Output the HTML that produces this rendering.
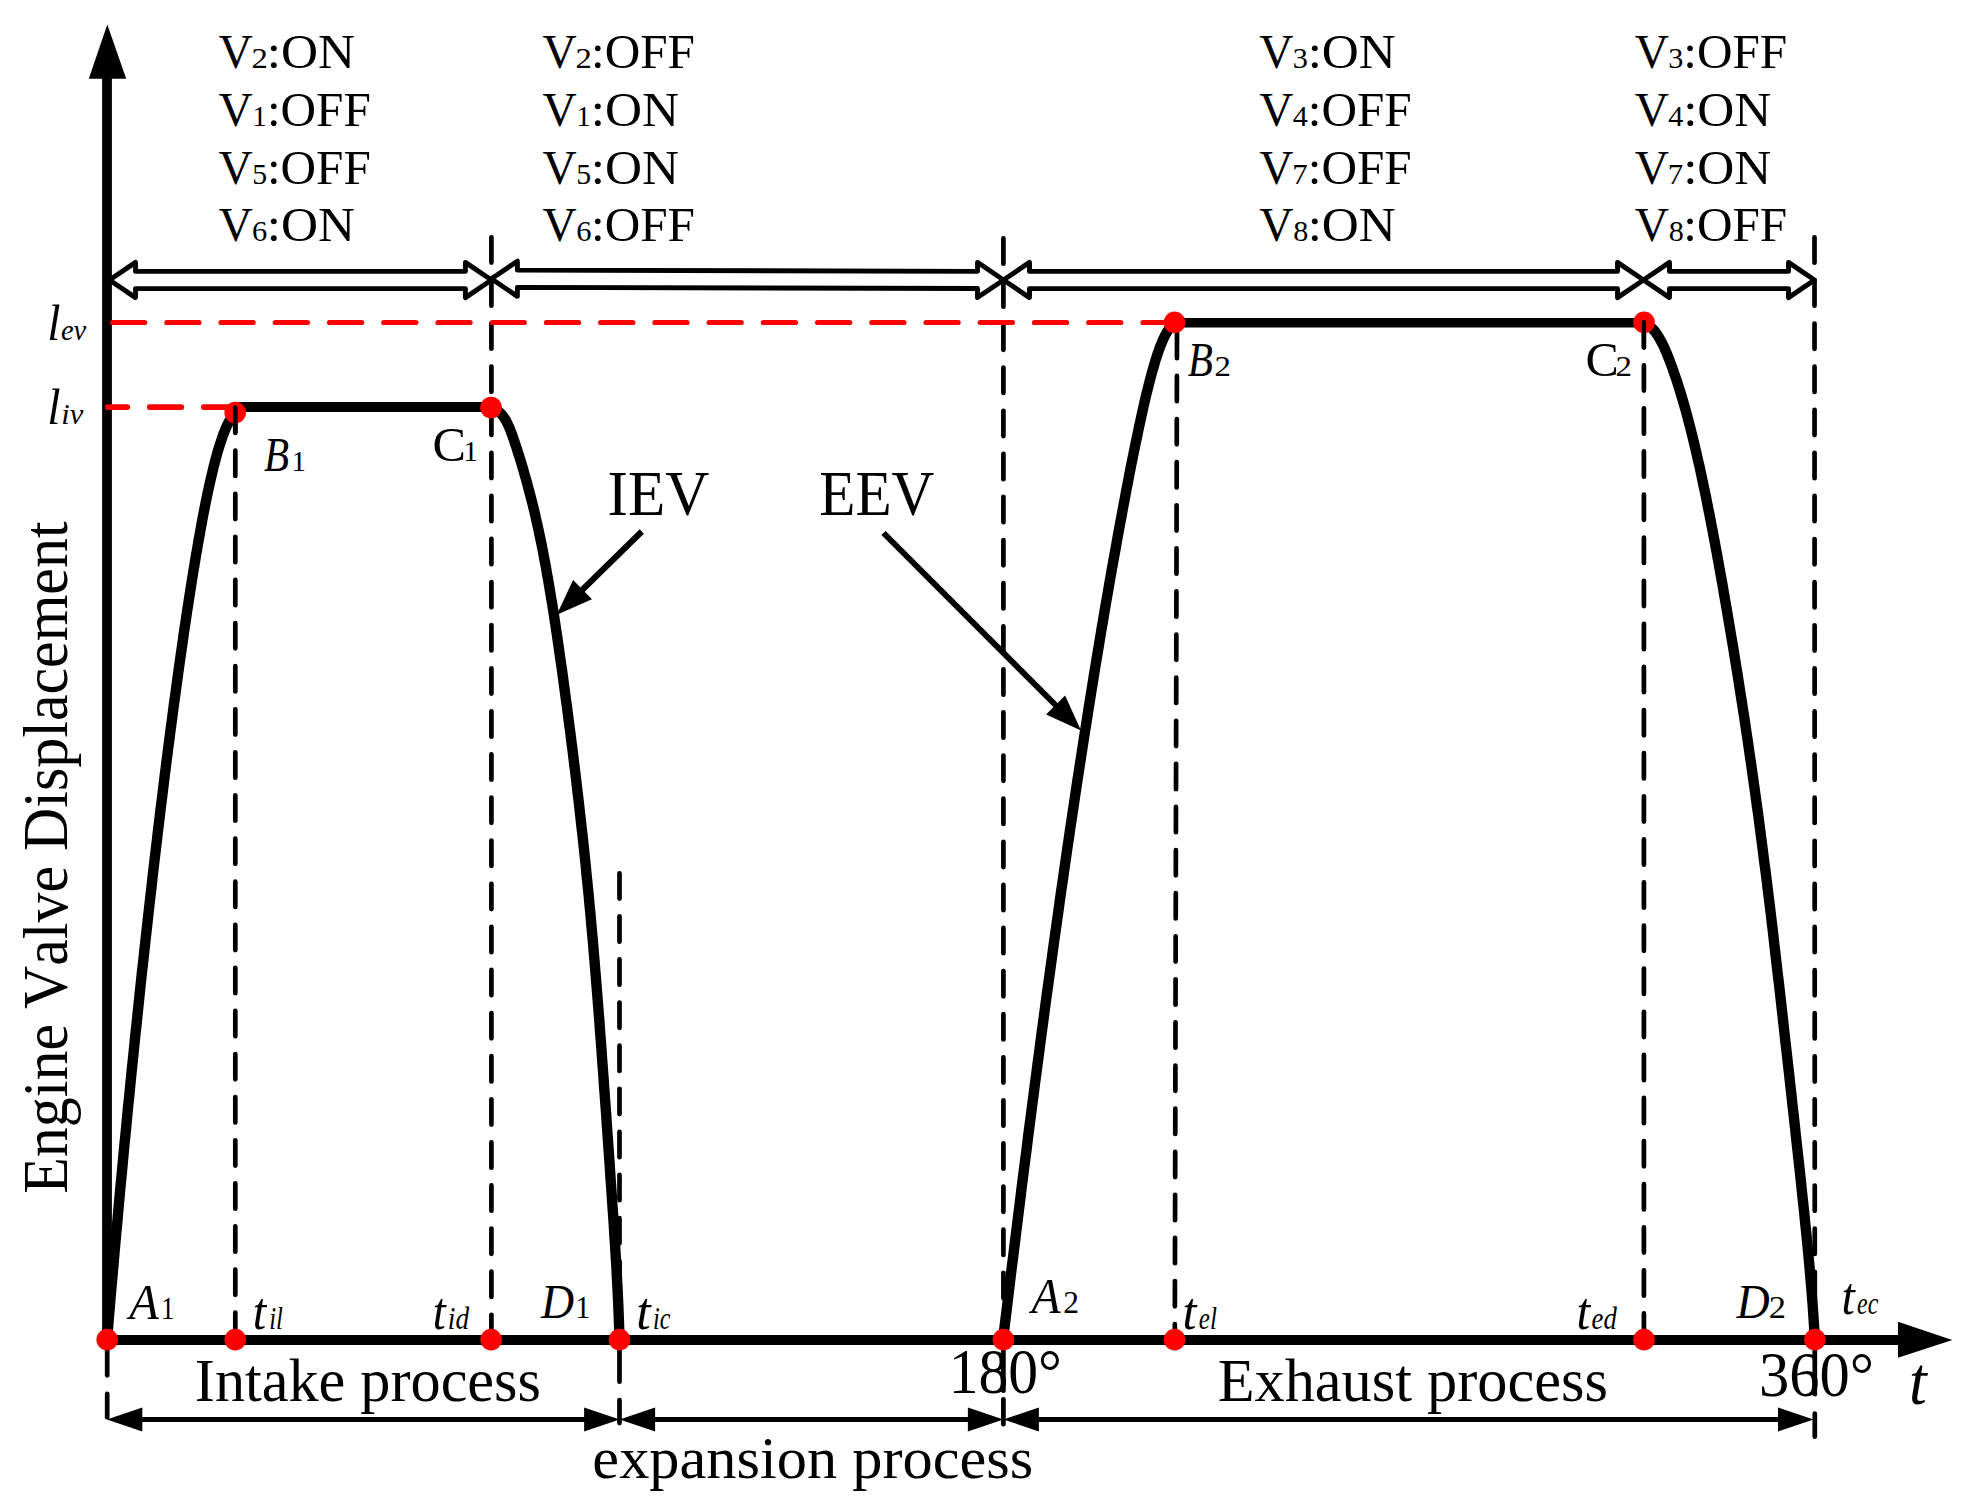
<!DOCTYPE html>
<html><head><meta charset="utf-8"><title>Engine valve displacement</title>
<style>
html,body{margin:0;padding:0;background:#fff}
svg{display:block}
text{font-family:"Liberation Serif",serif;fill:#000;font-kerning:none}
</style></head>
<body>
<svg width="1972" height="1506" viewBox="0 0 1972 1506">
<rect width="1972" height="1506" fill="#fff"/>
<g fill="none" stroke="#000">
<path d="M107.0,1344.9 V78" stroke-width="9.8"/>
<path d="M107.0,1340.0 H1900" stroke-width="10"/>
</g>
<polygon points="107.3,24.5 88.8,78.7 126.2,78.7" fill="#000"/>
<polygon points="1952.3,1340 1898,1321.8 1898,1357.8" fill="#000"/>
<g fill="none" stroke="#000" stroke-width="10.4" stroke-linejoin="round" stroke-linecap="butt">
<path d="M235.2,412.6 L234.5,413.4 L233.7,414.3 L233.0,415.3 L232.2,416.3 L231.5,417.4 L230.8,418.5 L230.1,419.7 L229.3,421.0 L228.6,422.3 L227.9,423.7 L227.2,425.2 L226.5,426.7 L225.8,428.3 L225.1,430.0 L224.4,431.7 L223.7,433.4 L223.0,435.3 L222.3,437.2 L221.7,439.2 L221.0,441.2 L220.3,443.3 L219.6,445.4 L218.9,447.7 L218.2,449.9 L217.5,452.3 L216.9,454.7 L216.2,457.2 L215.5,459.7 L214.8,462.3 L214.1,465.0 L213.4,467.7 L212.8,470.5 L212.1,473.4 L211.4,476.3 L210.7,479.3 L210.0,482.3 L209.3,485.4 L208.6,488.6 L207.9,491.8 L207.2,495.1 L206.5,498.5 L205.8,501.9 L205.1,505.4 L204.4,509.0 L203.7,512.6 L203.0,516.2 L202.3,520.0 L201.6,523.8 L200.9,527.7 L200.2,531.6 L199.5,535.6 L198.7,539.6 L198.0,543.8 L197.3,548.0 L196.6,552.2 L195.8,556.5 L195.1,560.9 L194.4,565.3 L193.6,569.8 L192.9,574.4 L192.1,579.0 L191.4,583.7 L190.6,588.5 L189.9,593.3 L189.1,598.2 L188.4,603.1 L187.6,608.1 L186.8,613.2 L186.1,618.3 L185.3,623.5 L184.5,628.8 L183.7,634.1 L183.0,639.5 L182.2,645.0 L181.4,650.5 L180.6,656.1 L179.8,661.7 L179.0,667.4 L178.2,673.2 L177.4,679.0 L176.6,684.9 L175.8,690.9 L175.0,696.9 L174.1,703.0 L173.3,709.1 L172.5,715.3 L171.7,721.6 L170.8,728.0 L170.0,734.4 L169.2,740.8 L168.3,747.4 L167.5,753.9 L166.6,760.6 L165.8,767.3 L164.9,774.1 L164.1,781.0 L163.2,787.9 L162.4,794.8 L161.5,801.9 L160.6,809.0 L159.8,816.1 L158.9,823.4 L158.0,830.7 L157.2,838.0 L156.3,845.4 L155.4,852.9 L154.5,860.4 L153.6,868.1 L152.7,875.7 L151.9,883.5 L151.0,891.3 L150.1,899.1 L149.2,907.0 L148.3,915.0 L147.4,923.1 L146.5,931.2 L145.6,939.4 L144.7,947.6 L143.8,955.9 L142.9,964.3 L141.9,972.7 L141.0,981.2 L140.1,989.8 L139.2,998.4 L138.3,1007.1 L137.4,1015.8 L136.5,1024.6 L135.5,1033.5 L134.6,1042.4 L133.7,1051.4 L132.8,1060.5 L131.8,1069.6 L130.9,1078.8 L130.0,1088.1 L129.1,1097.4 L128.1,1106.8 L127.2,1116.2 L126.3,1125.7 L125.4,1135.3 L124.4,1144.9 L123.5,1154.6 L122.6,1164.4 L121.7,1174.2 L120.7,1184.1 L119.8,1194.0 L118.9,1204.1 L118.0,1214.1 L117.1,1224.3 L116.1,1234.5 L115.2,1244.7 L114.3,1255.1 L113.4,1265.5 L112.5,1275.9 L111.5,1286.4 L110.6,1297.0 L109.7,1307.7 L108.8,1318.4 L107.9,1329.2 L107.0,1340.0"/>
<path d="M491.0,407.5 L493.0,408.3 L494.9,409.2 L496.5,410.2 L498.0,411.2 L499.4,412.3 L500.6,413.4 L501.8,414.6 L502.9,415.9 L503.9,417.3 L504.8,418.7 L505.7,420.1 L506.5,421.7 L507.4,423.3 L508.1,424.9 L508.9,426.6 L509.7,428.4 L510.4,430.3 L511.1,432.2 L511.9,434.2 L512.6,436.2 L513.3,438.3 L514.1,440.5 L514.8,442.7 L515.6,445.0 L516.4,447.4 L517.2,449.8 L517.9,452.3 L518.7,454.8 L519.6,457.4 L520.4,460.1 L521.2,462.9 L522.1,465.7 L522.9,468.5 L523.8,471.5 L524.6,474.5 L525.5,477.5 L526.4,480.7 L527.3,483.8 L528.1,487.1 L529.0,490.4 L529.9,493.8 L530.8,497.2 L531.7,500.7 L532.6,504.3 L533.5,507.9 L534.4,511.6 L535.3,515.4 L536.1,519.2 L537.0,523.1 L537.9,527.1 L538.8,531.1 L539.6,535.2 L540.5,539.3 L541.4,543.5 L542.2,547.8 L543.1,552.1 L543.9,556.5 L544.7,561.0 L545.6,565.5 L546.4,570.1 L547.2,574.8 L548.1,579.5 L548.9,584.3 L549.7,589.1 L550.5,594.0 L551.3,599.0 L552.2,604.0 L553.0,609.1 L553.8,614.3 L554.6,619.5 L555.4,624.8 L556.2,630.2 L557.0,635.6 L557.8,641.1 L558.6,646.6 L559.4,652.2 L560.2,657.9 L561.0,663.6 L561.9,669.4 L562.7,675.3 L563.5,681.2 L564.3,687.2 L565.1,693.3 L565.9,699.4 L566.8,705.6 L567.6,711.8 L568.4,718.1 L569.2,724.5 L570.1,730.9 L570.9,737.5 L571.7,744.0 L572.6,750.6 L573.4,757.3 L574.2,764.1 L575.1,770.9 L575.9,777.8 L576.7,784.7 L577.5,791.8 L578.4,798.8 L579.2,806.0 L580.0,813.2 L580.8,820.4 L581.6,827.8 L582.5,835.2 L583.3,842.6 L584.1,850.2 L584.9,857.7 L585.7,865.4 L586.4,873.1 L587.2,880.9 L588.0,888.7 L588.8,896.6 L589.5,904.6 L590.3,912.6 L591.0,920.7 L591.7,928.9 L592.5,937.1 L593.2,945.4 L593.9,953.7 L594.6,962.1 L595.3,970.6 L596.0,979.2 L596.7,987.8 L597.4,996.4 L598.1,1005.2 L598.8,1014.0 L599.5,1022.8 L600.1,1031.8 L600.8,1040.7 L601.5,1049.8 L602.1,1058.9 L602.8,1068.1 L603.5,1077.3 L604.1,1086.6 L604.8,1096.0 L605.5,1105.4 L606.2,1114.9 L606.8,1124.5 L607.5,1134.1 L608.2,1143.8 L608.9,1153.6 L609.6,1163.4 L610.2,1173.3 L610.9,1183.2 L611.6,1193.2 L612.3,1203.3 L613.0,1213.4 L613.7,1223.6 L614.3,1233.9 L615.0,1244.2 L615.6,1254.6 L616.3,1265.0 L616.8,1275.6 L617.4,1286.1 L617.9,1296.8 L618.4,1307.5 L618.8,1318.3 L619.2,1329.1 L619.5,1340.0"/>
<path d="M1174.5,322.5 L1173.5,323.4 L1172.6,324.3 L1171.7,325.3 L1170.8,326.4 L1169.9,327.6 L1169.0,328.8 L1168.2,330.1 L1167.3,331.4 L1166.5,332.9 L1165.6,334.4 L1164.8,335.9 L1164.0,337.6 L1163.2,339.3 L1162.4,341.1 L1161.7,342.9 L1160.9,344.8 L1160.1,346.8 L1159.3,348.9 L1158.6,351.0 L1157.8,353.2 L1157.0,355.5 L1156.3,357.8 L1155.5,360.2 L1154.8,362.7 L1154.0,365.3 L1153.3,367.9 L1152.5,370.6 L1151.7,373.4 L1151.0,376.2 L1150.2,379.1 L1149.4,382.1 L1148.7,385.1 L1147.9,388.2 L1147.1,391.4 L1146.3,394.6 L1145.5,398.0 L1144.7,401.3 L1143.9,404.8 L1143.1,408.3 L1142.3,411.9 L1141.5,415.6 L1140.7,419.3 L1139.9,423.2 L1139.0,427.0 L1138.2,431.0 L1137.4,435.0 L1136.5,439.1 L1135.6,443.3 L1134.8,447.5 L1133.9,451.8 L1133.0,456.2 L1132.1,460.6 L1131.2,465.1 L1130.3,469.7 L1129.4,474.3 L1128.5,479.1 L1127.6,483.9 L1126.6,488.7 L1125.7,493.6 L1124.8,498.6 L1123.8,503.7 L1122.8,508.9 L1121.9,514.1 L1120.9,519.3 L1119.9,524.7 L1118.9,530.1 L1117.9,535.6 L1116.9,541.2 L1115.9,546.8 L1114.9,552.5 L1113.8,558.3 L1112.8,564.1 L1111.7,570.0 L1110.7,576.0 L1109.6,582.0 L1108.6,588.2 L1107.5,594.3 L1106.4,600.6 L1105.3,606.9 L1104.2,613.3 L1103.2,619.8 L1102.0,626.3 L1100.9,633.0 L1099.8,639.6 L1098.7,646.4 L1097.6,653.2 L1096.4,660.1 L1095.3,667.0 L1094.1,674.1 L1093.0,681.2 L1091.8,688.3 L1090.7,695.6 L1089.5,702.9 L1088.3,710.3 L1087.2,717.7 L1086.0,725.2 L1084.8,732.8 L1083.6,740.5 L1082.4,748.2 L1081.2,756.0 L1080.0,763.9 L1078.8,771.8 L1077.5,779.8 L1076.3,787.9 L1075.1,796.1 L1073.9,804.3 L1072.6,812.6 L1071.4,820.9 L1070.1,829.4 L1068.9,837.9 L1067.6,846.4 L1066.4,855.1 L1065.1,863.8 L1063.9,872.5 L1062.6,881.4 L1061.3,890.3 L1060.0,899.3 L1058.8,908.4 L1057.5,917.5 L1056.2,926.7 L1054.9,936.0 L1053.6,945.3 L1052.3,954.7 L1051.0,964.2 L1049.7,973.7 L1048.4,983.3 L1047.0,993.0 L1045.7,1002.8 L1044.4,1012.6 L1043.1,1022.5 L1041.7,1032.5 L1040.4,1042.5 L1039.1,1052.6 L1037.7,1062.8 L1036.4,1073.1 L1035.0,1083.4 L1033.7,1093.8 L1032.3,1104.2 L1031.0,1114.7 L1029.6,1125.3 L1028.2,1136.0 L1026.9,1146.8 L1025.5,1157.6 L1024.1,1168.4 L1022.7,1179.4 L1021.3,1190.4 L1020.0,1201.5 L1018.6,1212.6 L1017.2,1223.9 L1015.8,1235.2 L1014.4,1246.5 L1013.0,1258.0 L1011.5,1269.5 L1010.1,1281.1 L1008.7,1292.7 L1007.3,1304.4 L1005.9,1316.2 L1004.4,1328.1 L1003.0,1340.0"/>
<path d="M1644.0,322.5 L1645.7,323.4 L1647.2,324.3 L1648.6,325.3 L1650.0,326.4 L1651.3,327.6 L1652.5,328.8 L1653.7,330.1 L1654.9,331.4 L1655.9,332.9 L1657.0,334.4 L1658.0,335.9 L1659.0,337.6 L1660.0,339.3 L1661.0,341.1 L1662.0,342.9 L1662.9,344.8 L1663.9,346.8 L1664.8,348.9 L1665.7,351.0 L1666.7,353.2 L1667.6,355.5 L1668.5,357.8 L1669.5,360.2 L1670.4,362.7 L1671.4,365.3 L1672.3,367.9 L1673.3,370.6 L1674.2,373.4 L1675.2,376.2 L1676.2,379.1 L1677.2,382.1 L1678.1,385.1 L1679.1,388.2 L1680.1,391.4 L1681.1,394.6 L1682.1,398.0 L1683.1,401.3 L1684.1,404.8 L1685.1,408.3 L1686.1,411.9 L1687.1,415.6 L1688.1,419.3 L1689.1,423.2 L1690.1,427.0 L1691.1,431.0 L1692.1,435.0 L1693.1,439.1 L1694.1,443.3 L1695.1,447.5 L1696.1,451.8 L1697.1,456.2 L1698.1,460.6 L1699.2,465.1 L1700.2,469.7 L1701.2,474.3 L1702.2,479.1 L1703.2,483.9 L1704.2,488.7 L1705.3,493.6 L1706.3,498.6 L1707.3,503.7 L1708.3,508.9 L1709.4,514.1 L1710.4,519.3 L1711.4,524.7 L1712.5,530.1 L1713.5,535.6 L1714.6,541.2 L1715.6,546.8 L1716.7,552.5 L1717.7,558.3 L1718.8,564.1 L1719.8,570.0 L1720.9,576.0 L1722.0,582.0 L1723.1,588.2 L1724.1,594.3 L1725.2,600.6 L1726.3,606.9 L1727.4,613.3 L1728.5,619.8 L1729.6,626.3 L1730.7,633.0 L1731.8,639.6 L1733.0,646.4 L1734.1,653.2 L1735.2,660.1 L1736.3,667.0 L1737.5,674.1 L1738.6,681.2 L1739.7,688.3 L1740.8,695.6 L1742.0,702.9 L1743.1,710.3 L1744.3,717.7 L1745.4,725.2 L1746.5,732.8 L1747.7,740.5 L1748.8,748.2 L1749.9,756.0 L1751.1,763.9 L1752.2,771.8 L1753.3,779.8 L1754.5,787.9 L1755.6,796.1 L1756.7,804.3 L1757.9,812.6 L1759.0,820.9 L1760.1,829.4 L1761.2,837.9 L1762.3,846.4 L1763.4,855.1 L1764.5,863.8 L1765.7,872.5 L1766.8,881.4 L1767.9,890.3 L1769.0,899.3 L1770.1,908.4 L1771.2,917.5 L1772.3,926.7 L1773.4,936.0 L1774.4,945.3 L1775.5,954.7 L1776.6,964.2 L1777.7,973.7 L1778.9,983.3 L1780.0,993.0 L1781.1,1002.8 L1782.2,1012.6 L1783.3,1022.5 L1784.4,1032.5 L1785.5,1042.5 L1786.7,1052.6 L1787.8,1062.8 L1789.0,1073.1 L1790.1,1083.4 L1791.3,1093.8 L1792.4,1104.2 L1793.6,1114.7 L1794.8,1125.3 L1795.9,1136.0 L1797.1,1146.8 L1798.3,1157.6 L1799.5,1168.4 L1800.7,1179.4 L1801.8,1190.4 L1803.0,1201.5 L1804.2,1212.6 L1805.3,1223.9 L1806.5,1235.2 L1807.6,1246.5 L1808.7,1258.0 L1809.7,1269.5 L1810.7,1281.1 L1811.7,1292.7 L1812.6,1304.4 L1813.4,1316.2 L1814.2,1328.1 L1814.9,1340.0"/>
<path d="M235,407 H491" stroke-width="9.8"/>
<path d="M1174.5,322.8 H1644" stroke-width="9.6"/>
</g>
<polygon points="109.50,280.00 135.50,262.40 135.50,271.40 465.40,271.40 465.40,262.40 491.40,280.00 465.40,297.60 465.40,288.60 135.50,288.60 135.50,297.60" fill="none" stroke="#000" stroke-width="4.9" stroke-linejoin="round"/>
<polygon points="491.40,278.70 517.44,261.17 517.42,270.17 977.52,271.33 977.54,262.33 1003.50,280.00 977.46,297.53 977.48,288.53 517.38,287.37 517.36,296.37" fill="none" stroke="#000" stroke-width="4.9" stroke-linejoin="round"/>
<polygon points="1003.50,280.00 1029.50,262.40 1029.50,271.40 1617.50,271.40 1617.50,262.40 1643.50,280.00 1617.50,297.60 1617.50,288.60 1029.50,288.60 1029.50,297.60" fill="none" stroke="#000" stroke-width="4.9" stroke-linejoin="round"/>
<polygon points="1643.50,280.00 1669.50,262.40 1669.50,271.40 1788.50,271.40 1788.50,262.40 1814.50,280.00 1788.50,297.60 1788.50,288.60 1669.50,288.60 1669.50,297.60" fill="none" stroke="#000" stroke-width="4.9" stroke-linejoin="round"/>
<line x1="235.30" y1="407.55" x2="235.30" y2="1340.00" stroke="#000" stroke-width="4.7" stroke-linecap="round" stroke-dasharray="25.30 17.80"/>
<line x1="491.40" y1="237.25" x2="491.40" y2="1340.00" stroke="#000" stroke-width="4.7" stroke-linecap="round" stroke-dasharray="25.30 17.80"/>
<line x1="619.50" y1="873.25" x2="619.50" y2="1340.00" stroke="#000" stroke-width="4.7" stroke-linecap="round" stroke-dasharray="25.30 17.80"/>
<line x1="1003.40" y1="238.35" x2="1003.40" y2="1340.00" stroke="#000" stroke-width="4.7" stroke-linecap="round" stroke-dasharray="25.30 17.80"/>
<line x1="1177.00" y1="332.85" x2="1174.80" y2="1340.00" stroke="#000" stroke-width="4.7" stroke-linecap="round" stroke-dasharray="25.30 17.80"/>
<line x1="1643.90" y1="322.15" x2="1643.90" y2="1340.00" stroke="#000" stroke-width="4.7" stroke-linecap="round" stroke-dasharray="25.30 17.80"/>
<line x1="1814.50" y1="237.35" x2="1814.80" y2="1340.00" stroke="#000" stroke-width="4.7" stroke-linecap="round" stroke-dasharray="25.30 17.80"/>
<line x1="107.20" y1="1342.35" x2="107.20" y2="1375.35" stroke="#000" stroke-width="4.7" stroke-linecap="round"/>
<line x1="107.20" y1="1393.85" x2="107.20" y2="1417.15" stroke="#000" stroke-width="4.7" stroke-linecap="round"/>
<line x1="619.50" y1="1342.35" x2="619.50" y2="1381.65" stroke="#000" stroke-width="4.7" stroke-linecap="round"/>
<line x1="619.50" y1="1400.15" x2="619.50" y2="1423.05" stroke="#000" stroke-width="4.7" stroke-linecap="round"/>
<line x1="1003.40" y1="1342.35" x2="1003.40" y2="1390.65" stroke="#000" stroke-width="4.7" stroke-linecap="round"/>
<line x1="1003.40" y1="1399.35" x2="1003.40" y2="1424.15" stroke="#000" stroke-width="4.7" stroke-linecap="round"/>
<line x1="1814.80" y1="1342.35" x2="1814.80" y2="1394.15" stroke="#000" stroke-width="4.7" stroke-linecap="round"/>
<line x1="1814.80" y1="1413.55" x2="1814.80" y2="1436.65" stroke="#000" stroke-width="4.7" stroke-linecap="round"/>
<line x1="112.60" y1="322.50" x2="1174.00" y2="322.50" stroke="#ff0000" stroke-width="5.2" stroke-linecap="round" stroke-dasharray="32.10 22.13"/>
<line x1="107.7" y1="407.1" x2="127.2" y2="407.1" stroke="#ff0000" stroke-width="5.8" stroke-linecap="round"/>
<line x1="149.7" y1="407.1" x2="181.3" y2="407.1" stroke="#ff0000" stroke-width="5.8" stroke-linecap="round"/>
<line x1="203.8" y1="407.1" x2="232" y2="407.1" stroke="#ff0000" stroke-width="5.8" stroke-linecap="round"/>
<line x1="140.3" y1="1419.4" x2="586.1" y2="1419.4" stroke="#000" stroke-width="5.0"/>
<polygon points="106.8,1419.4 142.3,1407.4 142.3,1431.4" fill="#000"/>
<polygon points="619.6,1419.4 584.1,1407.4 584.1,1431.4" fill="#000"/>
<line x1="653.1" y1="1419.4" x2="969.9" y2="1419.4" stroke="#000" stroke-width="5.0"/>
<polygon points="619.6,1419.4 655.1,1407.4 655.1,1431.4" fill="#000"/>
<polygon points="1003.4,1419.4 967.9,1407.4 967.9,1431.4" fill="#000"/>
<line x1="1036.9" y1="1419.4" x2="1780.0" y2="1419.4" stroke="#000" stroke-width="5.0"/>
<polygon points="1003.4,1419.4 1038.9,1407.4 1038.9,1431.4" fill="#000"/>
<polygon points="1813.5,1419.4 1778.0,1407.4 1778.0,1431.4" fill="#000"/>
<line x1="641.8" y1="531.5" x2="581.1" y2="591.0" stroke="#000" stroke-width="6.0"/>
<polygon points="556.8,614.8 573.1,580.0 592.0,599.2" fill="#000"/>
<line x1="883.5" y1="533.0" x2="1057.0" y2="706.5" stroke="#000" stroke-width="6.0"/>
<polygon points="1081.0,730.5 1046.0,714.6 1065.1,695.5" fill="#000"/>
<circle cx="107.20" cy="1339.60" r="10.8" fill="#ff0000"/>
<circle cx="235.20" cy="1339.60" r="10.8" fill="#ff0000"/>
<circle cx="491.10" cy="1339.60" r="10.8" fill="#ff0000"/>
<circle cx="619.50" cy="1339.60" r="10.8" fill="#ff0000"/>
<circle cx="1003.40" cy="1339.60" r="10.8" fill="#ff0000"/>
<circle cx="1174.60" cy="1339.60" r="10.8" fill="#ff0000"/>
<circle cx="1644.00" cy="1339.60" r="10.8" fill="#ff0000"/>
<circle cx="1814.90" cy="1339.60" r="10.8" fill="#ff0000"/>
<circle cx="235.20" cy="412.60" r="10.8" fill="#ff0000"/>
<circle cx="491.05" cy="407.50" r="10.8" fill="#ff0000"/>
<circle cx="1174.55" cy="322.40" r="10.8" fill="#ff0000"/>
<circle cx="1644.05" cy="322.40" r="10.8" fill="#ff0000"/>
<line x1="235.3" y1="407.6" x2="235.3" y2="432.3" stroke="#000" stroke-width="4.7" stroke-linecap="round"/>
<line x1="1643.9" y1="322.2" x2="1643.9" y2="347.6" stroke="#000" stroke-width="4.2" stroke-linecap="round"/>
<text y="67.70"><tspan x="218.38" font-size="48.2" textLength="34.25" lengthAdjust="spacingAndGlyphs">V</tspan><tspan x="251.46" font-size="29.5" textLength="16.33" lengthAdjust="spacingAndGlyphs">2</tspan><tspan x="266.75" font-size="48.2" textLength="88.23" lengthAdjust="spacingAndGlyphs">:ON</tspan></text>
<text y="125.70"><tspan x="218.38" font-size="48.2" textLength="34.25" lengthAdjust="spacingAndGlyphs">V</tspan><tspan x="252.25" font-size="29.5" textLength="14.49" lengthAdjust="spacingAndGlyphs">1</tspan><tspan x="266.92" font-size="48.2" textLength="103.86" lengthAdjust="spacingAndGlyphs">:OFF</tspan></text>
<text y="183.70"><tspan x="218.38" font-size="48.2" textLength="34.25" lengthAdjust="spacingAndGlyphs">V</tspan><tspan x="252.17" font-size="29.5" textLength="14.89" lengthAdjust="spacingAndGlyphs">5</tspan><tspan x="266.92" font-size="48.2" textLength="103.86" lengthAdjust="spacingAndGlyphs">:OFF</tspan></text>
<text y="240.80"><tspan x="218.38" font-size="48.2" textLength="34.25" lengthAdjust="spacingAndGlyphs">V</tspan><tspan x="252.09" font-size="29.5" textLength="15.22" lengthAdjust="spacingAndGlyphs">6</tspan><tspan x="266.75" font-size="48.2" textLength="88.23" lengthAdjust="spacingAndGlyphs">:ON</tspan></text>
<text y="67.70"><tspan x="542.48" font-size="48.2" textLength="34.25" lengthAdjust="spacingAndGlyphs">V</tspan><tspan x="575.56" font-size="29.5" textLength="16.33" lengthAdjust="spacingAndGlyphs">2</tspan><tspan x="591.02" font-size="48.2" textLength="103.86" lengthAdjust="spacingAndGlyphs">:OFF</tspan></text>
<text y="125.70"><tspan x="542.48" font-size="48.2" textLength="34.25" lengthAdjust="spacingAndGlyphs">V</tspan><tspan x="576.35" font-size="29.5" textLength="14.49" lengthAdjust="spacingAndGlyphs">1</tspan><tspan x="590.85" font-size="48.2" textLength="88.23" lengthAdjust="spacingAndGlyphs">:ON</tspan></text>
<text y="183.70"><tspan x="542.48" font-size="48.2" textLength="34.25" lengthAdjust="spacingAndGlyphs">V</tspan><tspan x="576.27" font-size="29.5" textLength="14.89" lengthAdjust="spacingAndGlyphs">5</tspan><tspan x="590.85" font-size="48.2" textLength="88.23" lengthAdjust="spacingAndGlyphs">:ON</tspan></text>
<text y="240.80"><tspan x="542.48" font-size="48.2" textLength="34.25" lengthAdjust="spacingAndGlyphs">V</tspan><tspan x="576.19" font-size="29.5" textLength="15.22" lengthAdjust="spacingAndGlyphs">6</tspan><tspan x="591.02" font-size="48.2" textLength="103.86" lengthAdjust="spacingAndGlyphs">:OFF</tspan></text>
<text y="67.70"><tspan x="1259.28" font-size="48.2" textLength="34.25" lengthAdjust="spacingAndGlyphs">V</tspan><tspan x="1292.85" font-size="29.5" textLength="15.13" lengthAdjust="spacingAndGlyphs">3</tspan><tspan x="1307.65" font-size="48.2" textLength="88.23" lengthAdjust="spacingAndGlyphs">:ON</tspan></text>
<text y="125.70"><tspan x="1259.28" font-size="48.2" textLength="34.25" lengthAdjust="spacingAndGlyphs">V</tspan><tspan x="1292.70" font-size="29.5" textLength="15.09" lengthAdjust="spacingAndGlyphs">4</tspan><tspan x="1307.82" font-size="48.2" textLength="103.86" lengthAdjust="spacingAndGlyphs">:OFF</tspan></text>
<text y="183.70"><tspan x="1259.28" font-size="48.2" textLength="34.25" lengthAdjust="spacingAndGlyphs">V</tspan><tspan x="1292.26" font-size="29.5" textLength="15.43" lengthAdjust="spacingAndGlyphs">7</tspan><tspan x="1307.82" font-size="48.2" textLength="103.86" lengthAdjust="spacingAndGlyphs">:OFF</tspan></text>
<text y="240.80"><tspan x="1259.28" font-size="48.2" textLength="34.25" lengthAdjust="spacingAndGlyphs">V</tspan><tspan x="1293.15" font-size="29.5" textLength="15.09" lengthAdjust="spacingAndGlyphs">8</tspan><tspan x="1307.65" font-size="48.2" textLength="88.23" lengthAdjust="spacingAndGlyphs">:ON</tspan></text>
<text y="67.70"><tspan x="1634.78" font-size="48.2" textLength="34.25" lengthAdjust="spacingAndGlyphs">V</tspan><tspan x="1668.35" font-size="29.5" textLength="15.13" lengthAdjust="spacingAndGlyphs">3</tspan><tspan x="1683.32" font-size="48.2" textLength="103.86" lengthAdjust="spacingAndGlyphs">:OFF</tspan></text>
<text y="125.70"><tspan x="1634.78" font-size="48.2" textLength="34.25" lengthAdjust="spacingAndGlyphs">V</tspan><tspan x="1668.20" font-size="29.5" textLength="15.09" lengthAdjust="spacingAndGlyphs">4</tspan><tspan x="1683.15" font-size="48.2" textLength="88.23" lengthAdjust="spacingAndGlyphs">:ON</tspan></text>
<text y="183.70"><tspan x="1634.78" font-size="48.2" textLength="34.25" lengthAdjust="spacingAndGlyphs">V</tspan><tspan x="1667.76" font-size="29.5" textLength="15.43" lengthAdjust="spacingAndGlyphs">7</tspan><tspan x="1683.15" font-size="48.2" textLength="88.23" lengthAdjust="spacingAndGlyphs">:ON</tspan></text>
<text y="240.80"><tspan x="1634.78" font-size="48.2" textLength="34.25" lengthAdjust="spacingAndGlyphs">V</tspan><tspan x="1668.65" font-size="29.5" textLength="15.09" lengthAdjust="spacingAndGlyphs">8</tspan><tspan x="1683.32" font-size="48.2" textLength="103.86" lengthAdjust="spacingAndGlyphs">:OFF</tspan></text>
<text y="340.00"><tspan x="47.27" font-size="50.0" font-style="italic" textLength="13.28" lengthAdjust="spacingAndGlyphs">l</tspan><tspan x="60.92" font-size="30.0" font-style="italic" textLength="25.28" lengthAdjust="spacingAndGlyphs">ev</tspan></text>
<text y="423.90"><tspan x="47.27" font-size="50.0" font-style="italic" textLength="13.28" lengthAdjust="spacingAndGlyphs">l</tspan><tspan x="61.29" font-size="30.0" font-style="italic" textLength="22.00" lengthAdjust="spacingAndGlyphs">iv</tspan></text>
<text y="471.05"><tspan x="263.93" font-size="48.5" font-style="italic" textLength="25.07" lengthAdjust="spacingAndGlyphs">B</tspan><tspan x="291.45" font-size="30.3" textLength="14.49" lengthAdjust="spacingAndGlyphs">1</tspan></text>
<text y="461.30"><tspan x="432.44" font-size="49.5" textLength="33.53" lengthAdjust="spacingAndGlyphs">C</tspan><tspan x="463.20" font-size="30.3" textLength="14.77" lengthAdjust="spacingAndGlyphs">1</tspan></text>
<text y="376.00"><tspan x="1187.63" font-size="48.5" font-style="italic" textLength="25.17" lengthAdjust="spacingAndGlyphs">B</tspan><tspan x="1214.55" font-size="30.0" textLength="16.46" lengthAdjust="spacingAndGlyphs">2</tspan></text>
<text y="376.20"><tspan x="1585.55" font-size="49.5" textLength="33.29" lengthAdjust="spacingAndGlyphs">C</tspan><tspan x="1615.45" font-size="30.0" textLength="16.46" lengthAdjust="spacingAndGlyphs">2</tspan></text>
<text y="514.80"><tspan x="607.60" font-size="64.0" textLength="101.68" lengthAdjust="spacingAndGlyphs">IEV</tspan></text>
<text y="514.80"><tspan x="819.28" font-size="64.0" textLength="115.08" lengthAdjust="spacingAndGlyphs">EEV</tspan></text>
<text y="1319.10"><tspan x="129.36" font-size="50.8" font-style="italic" textLength="29.58" lengthAdjust="spacingAndGlyphs">A</tspan><tspan x="161.12" font-size="30.5" textLength="13.49" lengthAdjust="spacingAndGlyphs">1</tspan></text>
<text y="1329.20"><tspan x="252.87" font-size="53.5" font-style="italic" textLength="13.45" lengthAdjust="spacingAndGlyphs">t</tspan><tspan x="269.22" font-size="31.0" font-style="italic" textLength="13.72" lengthAdjust="spacingAndGlyphs">il</tspan></text>
<text y="1329.20"><tspan x="432.85" font-size="53.5" font-style="italic" textLength="12.96" lengthAdjust="spacingAndGlyphs">t</tspan><tspan x="447.87" font-size="31.0" font-style="italic" textLength="21.28" lengthAdjust="spacingAndGlyphs">id</tspan></text>
<text y="1317.60"><tspan x="540.90" font-size="48.3" font-style="italic" textLength="33.09" lengthAdjust="spacingAndGlyphs">D</tspan><tspan x="575.25" font-size="30.5" textLength="15.06" lengthAdjust="spacingAndGlyphs">1</tspan></text>
<text y="1329.20"><tspan x="636.31" font-size="53.5" font-style="italic" textLength="14.44" lengthAdjust="spacingAndGlyphs">t</tspan><tspan x="653.05" font-size="31.0" font-style="italic" textLength="17.41" lengthAdjust="spacingAndGlyphs">ic</tspan></text>
<text y="1313.00"><tspan x="1031.61" font-size="50.8" font-style="italic" textLength="29.04" lengthAdjust="spacingAndGlyphs">A</tspan><tspan x="1063.32" font-size="30.5" textLength="15.71" lengthAdjust="spacingAndGlyphs">2</tspan></text>
<text y="1329.20"><tspan x="1182.38" font-size="53.5" font-style="italic" textLength="14.00" lengthAdjust="spacingAndGlyphs">t</tspan><tspan x="1198.82" font-size="31.0" font-style="italic" textLength="18.13" lengthAdjust="spacingAndGlyphs">el</tspan></text>
<text y="1329.20"><tspan x="1576.43" font-size="53.5" font-style="italic" textLength="13.67" lengthAdjust="spacingAndGlyphs">t</tspan><tspan x="1591.57" font-size="31.0" font-style="italic" textLength="25.17" lengthAdjust="spacingAndGlyphs">ed</tspan></text>
<text y="1317.60"><tspan x="1736.61" font-size="48.3" font-style="italic" textLength="33.19" lengthAdjust="spacingAndGlyphs">D</tspan><tspan x="1768.89" font-size="30.5" textLength="17.21" lengthAdjust="spacingAndGlyphs">2</tspan></text>
<text y="1314.20"><tspan x="1841.49" font-size="53.5" font-style="italic" textLength="13.34" lengthAdjust="spacingAndGlyphs">t</tspan><tspan x="1857.06" font-size="31.0" font-style="italic" textLength="21.30" lengthAdjust="spacingAndGlyphs">ec</tspan></text>
<text y="1401.00"><tspan x="194.83" font-size="62.0" textLength="346.15" lengthAdjust="spacingAndGlyphs">Intake process</tspan></text>
<text y="1393.00"><tspan x="948.65" font-size="64.0" textLength="113.26" lengthAdjust="spacingAndGlyphs">180°</tspan></text>
<text y="1401.00"><tspan x="1217.65" font-size="62.0" textLength="390.33" lengthAdjust="spacingAndGlyphs">Exhaust process</tspan></text>
<text y="1395.80"><tspan x="1758.89" font-size="64.0" textLength="115.07" lengthAdjust="spacingAndGlyphs">360°</tspan></text>
<text y="1403.60" transform="translate(0,1403.6) scale(1,1.1) translate(0,-1403.6)"><tspan x="1908.89" font-size="62.0" font-style="italic" textLength="17.72" lengthAdjust="spacingAndGlyphs">t</tspan></text>
<text y="1477.80"><tspan x="592.35" font-size="60.0" textLength="440.94" lengthAdjust="spacingAndGlyphs">expansion process</tspan></text>
<text transform="translate(67.2,1192.00) rotate(-90)" x="-1.74" y="0" font-size="63" textLength="672.29" lengthAdjust="spacingAndGlyphs">Engine Valve Displacement</text>
</svg>
</body></html>
